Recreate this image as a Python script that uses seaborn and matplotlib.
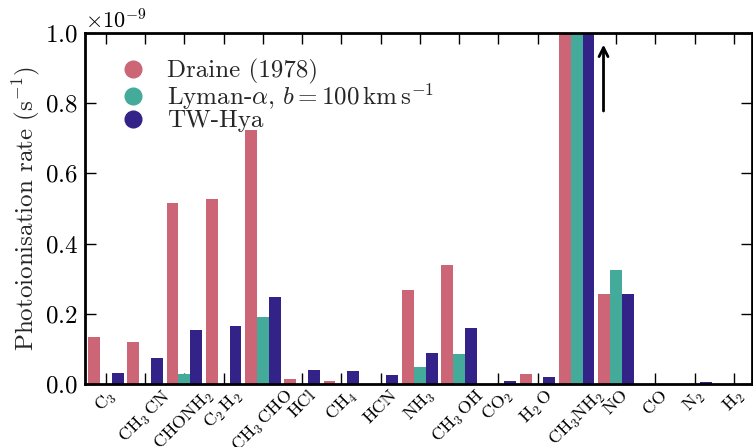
import numpy as np
import pandas as pd
import matplotlib
matplotlib.use("Agg")
import matplotlib.pyplot as plt
import seaborn as sns
from matplotlib.lines import Line2D

sns.set_style("ticks")
plt.rcParams.update({
    "font.family": "serif",
    "font.serif": ["cmr10"],
    "mathtext.fontset": "cm",
    "axes.formatter.use_mathtext": True,
    "axes.unicode_minus": False,
    "font.size": 18,
})

species = ["C$_3$", r"CH$_3\,$CN", "CHONH$_2$", r"C$_2\,$H$_2$",
           r"CH$_3\,$CHO", "HCl", "CH$_4$", "HCN", "NH$_3$", r"CH$_3\,$OH",
           "CO$_2$", r"H$_2\,$O", "CH$_3$NH$_2$", "NO", "CO", "N$_2$", "H$_2$"]

# photoionisation rates in units of 1e-9 s^-1 (CH3NH2 is off scale)
draine = [0.134, 0.120, 0.516, 0.527, 0.724, 0.014, 0.009, 0.0, 0.268, 0.339,
          0.0, 0.028, 1.6, 0.256, 0.0, 0.0, 0.0]
lyman = [0.0, 0.0, 0.028, 0.0, 0.191, 0.0, 0.0, 0.0, 0.048, 0.085,
         0.0, 0.0, 1.6, 0.325, 0.0, 0.0, 0.0]
twhya = [0.031, 0.074, 0.154, 0.165, 0.248, 0.040, 0.037, 0.026, 0.088, 0.160,
         0.009, 0.020, 1.6, 0.256, 0.0, 0.006, 0.0]

fields = ["Draine (1978)",
          r"Lyman-$\alpha$, $b=100\,\mathrm{km\,s^{-1}}$",
          "TW-Hya"]
colors = ["#CC6677", "#44AA99", "#332288"]

df = pd.DataFrame({
    "species": species * 3,
    "rate": np.concatenate([draine, lyman, twhya]) * 1e-9,
    "field": np.repeat(fields, len(species)),
})

fig = plt.figure(figsize=(7.53, 4.47), dpi=100)
ax = fig.add_axes([0.113, 0.141, 0.886, 0.785])

sns.barplot(data=df, x="species", y="rate", hue="field", order=species,
            hue_order=fields, palette=colors, width=0.9, gap=0,
            saturation=1, errorbar=None, legend=False, ax=ax, linewidth=0)

ax.set_xlim(-0.53, 16.47)
ax.set_ylim(0, 1e-9)
ax.set_yticks(np.arange(0, 1.01, 0.2) * 1e-9)
ax.set_xlabel("")
ax.set_ylabel(r"Photoionisation rate (s$^{-1}$)", fontsize=18, labelpad=2)
ax.set_xticks(range(len(species)))
ax.set_xticklabels(species, rotation=45, ha="center", fontsize=13)

for s in ax.spines.values():
    s.set_visible(True)
    s.set_linewidth(2)
    s.set_color("black")
ax.tick_params(direction="in", length=8, width=1, top=True, right=True,
               colors="black", labelsize=18)
ax.tick_params(axis="y", pad=5)
ax.tick_params(axis="x", labelsize=13, pad=2)

fmt = matplotlib.ticker.ScalarFormatter(useMathText=True)
fmt.set_powerlimits((-3, 3))
ax.yaxis.set_major_formatter(fmt)
ax.yaxis.get_offset_text().set_fontsize(16)

# off-scale marker for CH3NH2
ax.annotate("", xy=(12.68, 0.975e-9), xytext=(12.68, 0.77e-9),
            arrowprops=dict(arrowstyle="->", lw=2, color="black",
                            mutation_scale=16))

handles = [Line2D([], [], marker="o", ls="", color=c, markersize=12)
           for c in colors]
ax.legend(handles, fields, loc="upper left", frameon=False, fontsize=18,
          bbox_to_anchor=(0.035, 0.955), handletextpad=0.75, labelspacing=-0.1,
          borderaxespad=0, handlelength=1.2)

fig.savefig("out.png", dpi=100)
